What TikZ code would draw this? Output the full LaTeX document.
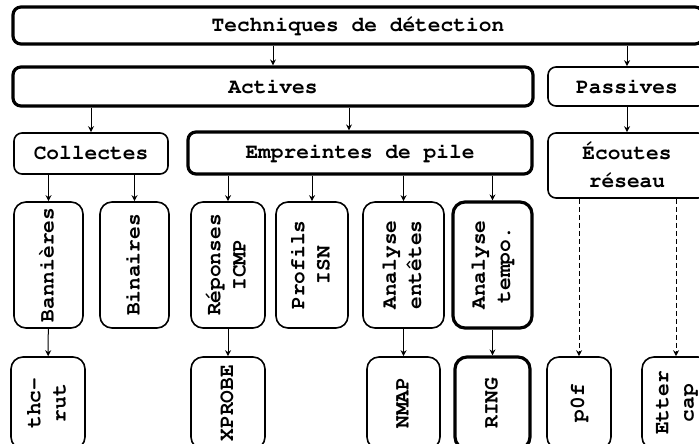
\documentclass[tikz,border=0pt]{standalone}
\usepackage{graphicx}
\usetikzlibrary{arrows.meta}
\newcommand{\vlabel}[1]{\rotatebox{90}{\renewcommand{\arraystretch}{0.9}\begin{tabular}{@{}c@{}}#1\end{tabular}}}

\begin{document}
\begin{tikzpicture}[x=0.5pt, y=-0.5pt,
  every node/.style = {shape=rectangle, rounded corners=4pt,
    draw, align=center, inner sep=0pt, line width=0.8pt,
    font=\fontencoding{T1}\fontfamily{pcr}\fontseries{b}\fontsize{10.6}{14}\selectfont},
  heavy/.style = {line width=1.6pt},
  tall/.style = {rounded corners=6pt},
  link/.style = {-{Stealth[length=3pt,width=3pt]}, line width=0.5pt},
  listen/.style = {link, dash pattern=on 2.5pt off 1.5pt}]
  \useasboundingbox (0,0) rectangle (699,443);
  \clip (0,0) rectangle (699,443);
  \node[heavy, minimum width=345pt, minimum height=18.5pt] (tech) at (358,25.5) {Techniques de détection};
  \node[heavy, minimum width=260pt, minimum height=19.5pt] (actives) at (273,86.5) {Actives};
  \node[minimum width=79pt, minimum height=19.5pt] (passives) at (627,86.5) {Passives};
  \node[minimum width=77pt, minimum height=20.5pt] (collectes) at (91,153.5) {Collectes};
  \node[heavy, minimum width=172pt, minimum height=21pt] (empreintes) at (360,153) {Empreintes de pile};
  \node[minimum width=79pt, minimum height=32.5pt] (ecoutes) at (627,165.5) {Écoutes\\réseau};
  \node[tall, minimum width=34.5pt, minimum height=63pt] (bannieres) at (48.5,265) {\vlabel{Bannières}};
  \node[tall, minimum width=34.5pt, minimum height=63pt] (binaires) at (134.5,265) {\vlabel{Binaires}};
  \node[tall, minimum width=37pt, minimum height=63pt] (reponses) at (228,265) {\vlabel{Réponses\\ICMP}};
  \node[tall, minimum width=36pt, minimum height=63pt] (profils) at (312,265) {\vlabel{Profils\\ISN}};
  \node[tall, minimum width=40.5pt, minimum height=63pt] (entetes) at (403.5,265) {\vlabel{Analyse\\entêtes}};
  \node[tall, heavy, minimum width=39.5pt, minimum height=63pt] (tempo) at (492.5,265) {\vlabel{Analyse\\tempo.}};
  \node[tall, minimum width=37pt, minimum height=46pt] (thcrut) at (48,403) {\vlabel{thc-\\rut}};
  \node[tall, minimum width=37pt, minimum height=46pt] (xprobe) at (228,403) {\vlabel{XPROBE}};
  \node[tall, minimum width=36.5pt, minimum height=46pt] (nmap) at (403.5,403) {\vlabel{NMAP}};
  \node[tall, heavy, minimum width=37.5pt, minimum height=46pt] (ring) at (492.5,403) {\vlabel{RING}};
  \node[tall, minimum width=32pt, minimum height=46pt] (pzerof) at (579,403) {\vlabel{p0f}};
  \node[tall, minimum width=34pt, minimum height=46pt] (ettercap) at (676,403) {\vlabel{Etter\\cap}};
  \coordinate (pile) at ([xshift=-5.5pt]empreintes.north);
  \draw[link] (tech.south -| actives) -- (actives.north);
  \draw[link] (tech.south -| passives) -- (passives.north);
  \draw[link] (actives.south -| collectes) -- (collectes.north);
  \draw[link] (actives.south -| pile) -- (pile);
  \draw[link] (passives.south) -- (ecoutes.north);
  \draw[link] (collectes.south -| bannieres) -- (bannieres.north);
  \draw[link] (collectes.south -| binaires) -- (binaires.north);
  \draw[link] (empreintes.south -| reponses) -- (reponses.north);
  \draw[link] (empreintes.south -| profils) -- (profils.north);
  \draw[link] (empreintes.south -| entetes) -- (entetes.north);
  \draw[link] (empreintes.south -| tempo) -- (tempo.north);
  \draw[link] (bannieres) -- (thcrut);
  \draw[link] (reponses) -- (xprobe);
  \draw[link] (entetes) -- (nmap);
  \draw[link] (tempo) -- (ring);
  \draw[listen] (ecoutes.south -| pzerof) -- (pzerof.north);
  \draw[listen] (ecoutes.south -| ettercap) -- (ettercap.north);
\end{tikzpicture}
\end{document}
